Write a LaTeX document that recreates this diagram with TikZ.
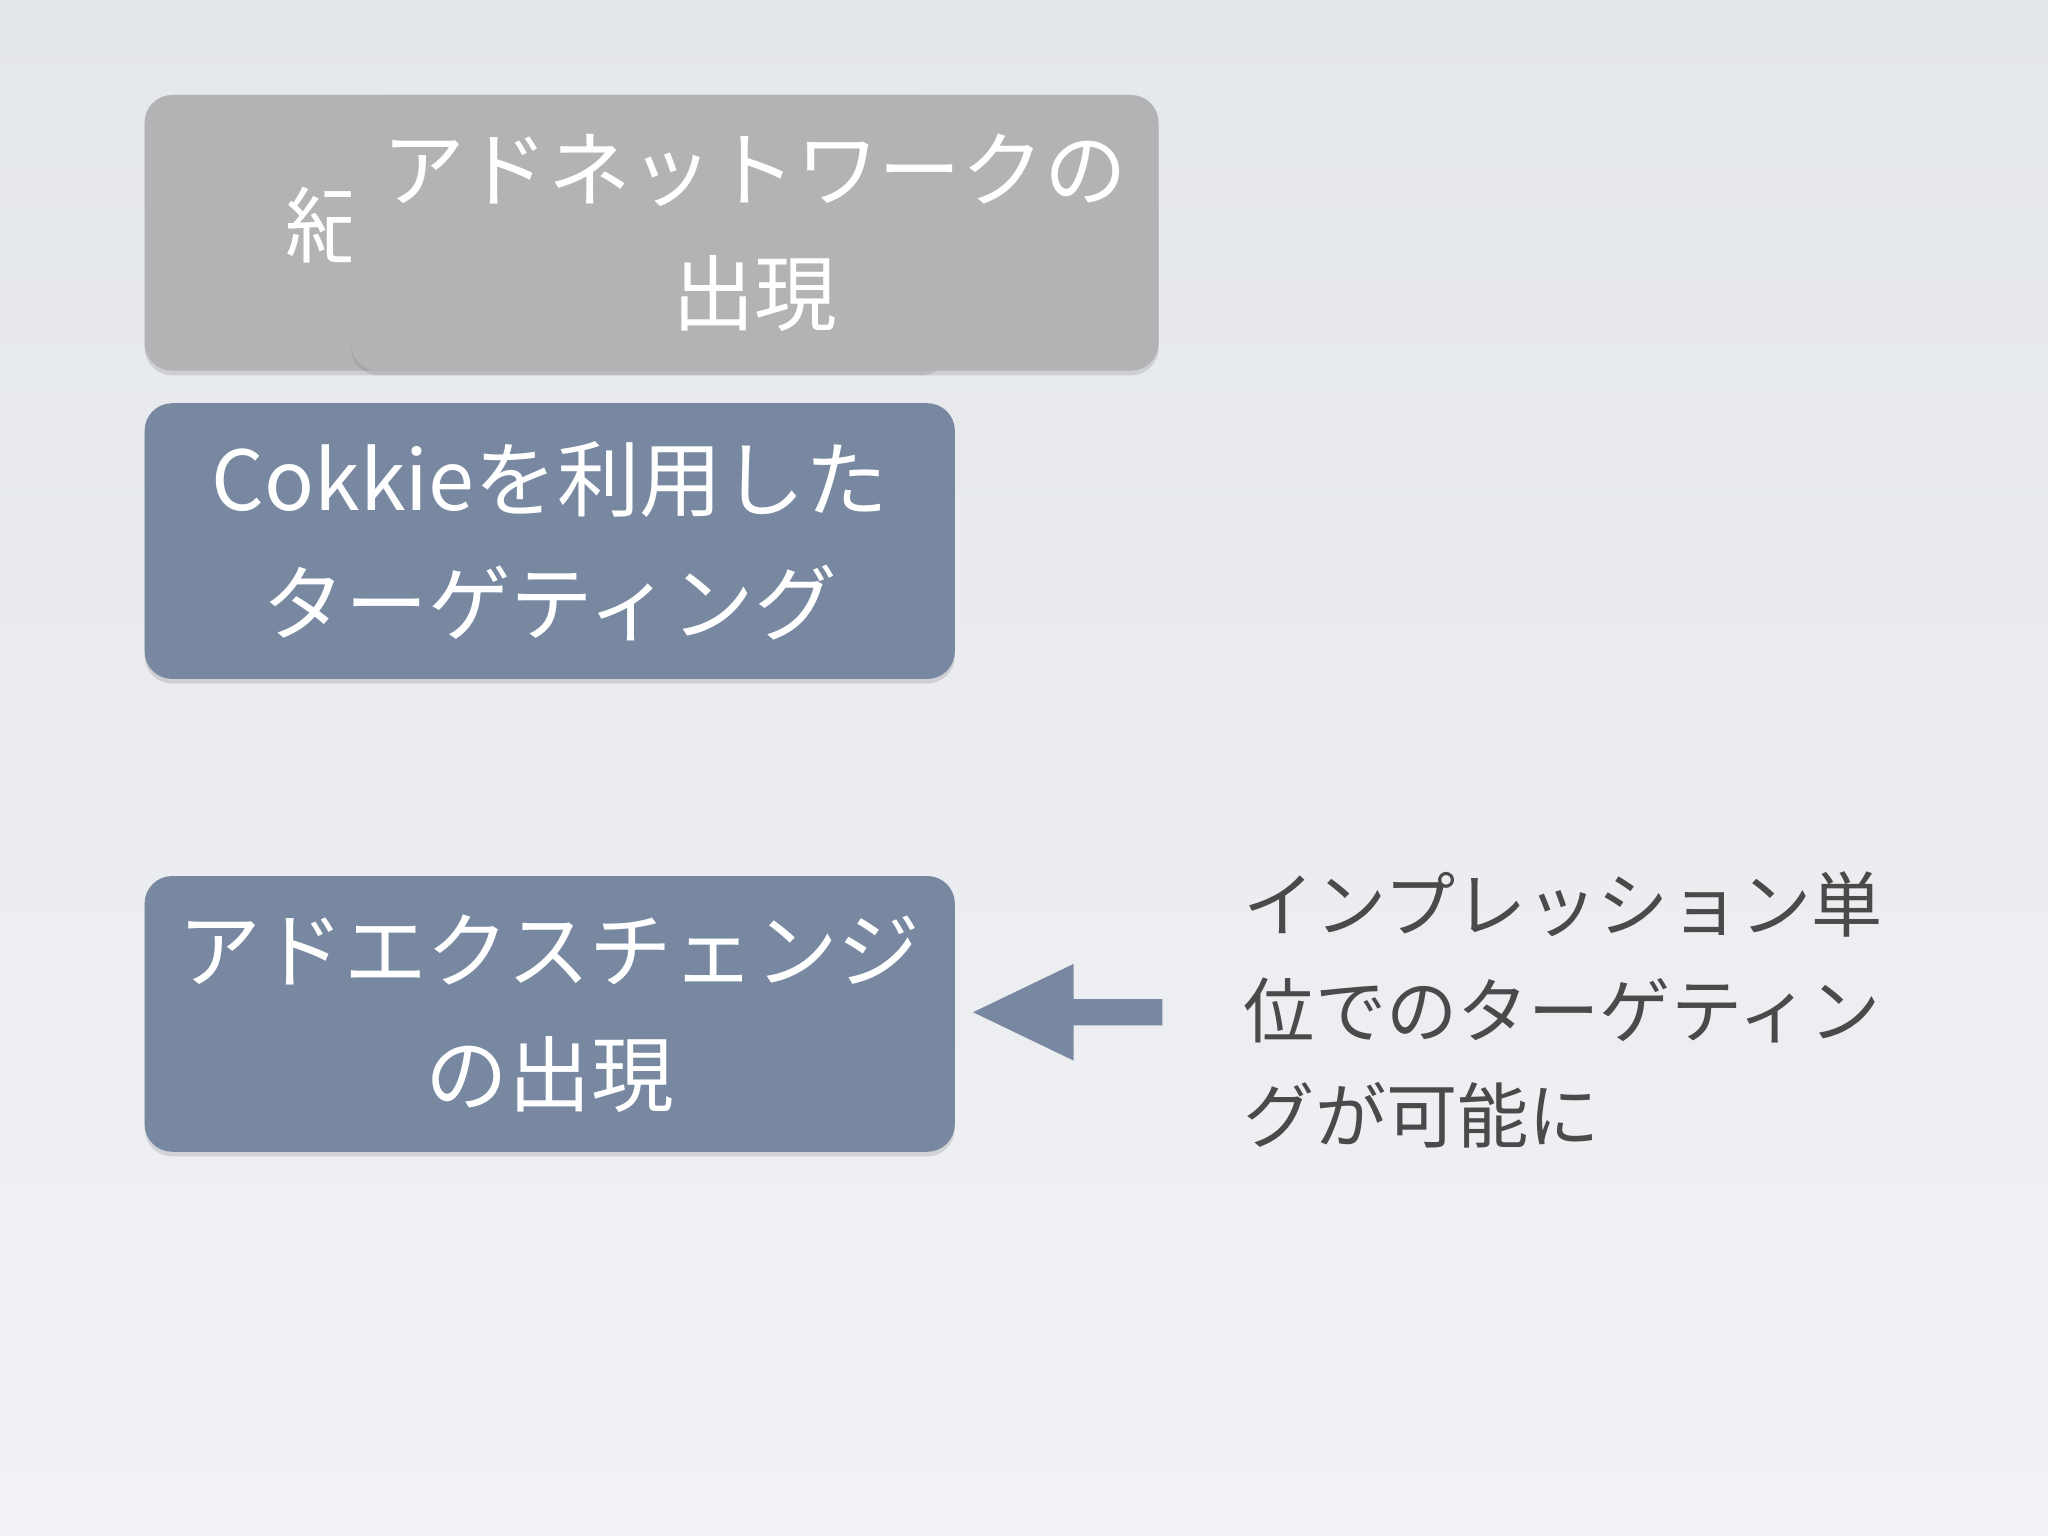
\documentclass[tikz,border=0pt]{standalone}
\usepackage{fontspec}
\setmainfont{Noto Sans CJK JP}
\usetikzlibrary{shadows}
\definecolor{bgtop}{HTML}{E4E7EB}
\definecolor{bgbot}{HTML}{F2F2F6}
\definecolor{graybox}{HTML}{B3B3B5}
\definecolor{bluebox}{HTML}{7788A0}
\definecolor{txt}{HTML}{4A4A4A}
\tikzset{
  box/.style={rounded corners=6pt, minimum width=#1, minimum height=2.11cm, anchor=north west,
    text=white, align=center, font=\fontsize{18}{27}\selectfont,
    drop shadow={shadow xshift=0pt, shadow yshift=-1pt, opacity=0.25}},
}
\begin{document}
\begin{tikzpicture}[x=0.01cm,y=-0.01cm]
\shade[top color=bgtop, bottom color=bgbot] (0,0) rectangle (1568,1176);
\useasboundingbox (0,0) rectangle (1568,1176);
\node[box=6.15cm, fill=graybox] (back) at (110,72) {};
\node[text=white, font=\fontsize{18}{27}\selectfont] (backtxt) at (250,172) {紀};
\node[box=6.18cm, fill=graybox] (net) at (268,72) {アドネットワークの\\出現};
\node[box=6.2cm, fill=bluebox] (cookie) at (110,308) {Cokkieを利用した\\ターゲティング};
\node[box=6.2cm, fill=bluebox] (adx) at (110,670) {アドエクスチェンジ\\の出現};
\fill[bluebox] (745,775) -- (822,738) -- (822,765) -- (890,765) -- (890,785) -- (822,785) -- (822,812) -- cycle;
\node[anchor=north west, text=txt, align=left, font=\fontsize{15.5}{23}\selectfont] (note) at (940,655)
  {インプレッション単\\位でのターゲティン\\グが可能に};
\end{tikzpicture}
\end{document}
